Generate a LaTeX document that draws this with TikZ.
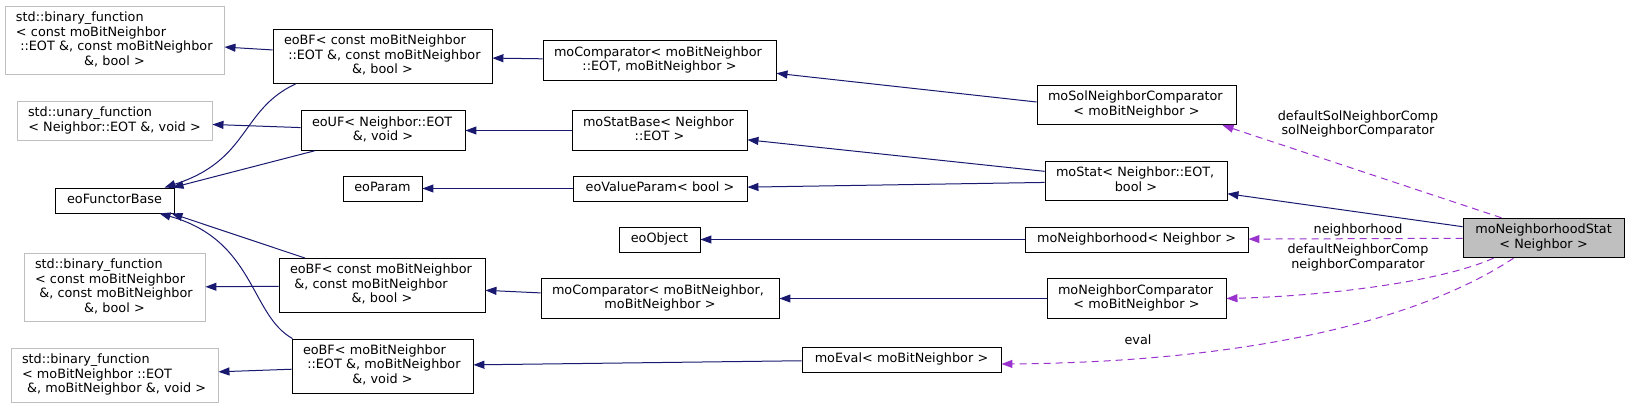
\documentclass[tikz,border=0pt]{standalone}
\usepackage{fontspec}
\setmainfont{DejaVu Sans}
\usetikzlibrary{arrows.meta,calc}
\definecolor{edgeblue}{HTML}{191970}
\definecolor{edgepurple}{HTML}{9A32CD}
\definecolor{grey75}{HTML}{BFBFBF}
\newcommand{\nodefont}{\fontsize{12.8}{14.5}\selectfont}
\newcommand{\lft}[1]{\makebox[\hsize][l]{\hspace{4pt}#1}}
\begin{document}
\begin{tikzpicture}[x=1pt, y=-1pt,
    every node/.style={font=\nodefont},
    cls/.style={draw=black, line width=0.9pt, rectangle, align=center,
        inner xsep=7pt, inner ysep=5.25pt,
        execute at begin node=\strut, execute at end node=\strut},
    ext/.style={cls, draw=grey75},
    lbl/.style={align=center, inner sep=0pt},
    inh/.style={draw=edgeblue, line width=1pt, -{Triangle[length=11pt,width=8pt]}},
    mbr/.style={draw=edgepurple, line width=1pt, dash pattern=on 7pt off 5pt,
        -{Triangle[length=11pt,width=8pt]}}]
    \useasboundingbox (0,0) rectangle (1629,409);
    % external classes
    \node[ext, text width=205pt] (stdbin1) at (114.5,40.5) {\lft{std::binary\_function}\\ \lft{< const moBitNeighbor}\\ \lft{\ ::EOT \&, const moBitNeighbor}\\ \&, bool >};
    \node[ext, text width=181pt] (stdun) at (114.5,121) {\lft{std::unary\_function}\\ < Neighbor::EOT \&, void >};
    \node[ext, text width=167pt] (stdbin2) at (114.5,287.5) {\lft{std::binary\_function}\\ \lft{< const moBitNeighbor}\\ \lft{\ \&, const moBitNeighbor}\\ \&, bool >};
    \node[ext, text width=193pt] (stdbin3) at (114.5,375.5) {\lft{std::binary\_function}\\ \lft{< moBitNeighbor ::EOT}\\ \ \&, moBitNeighbor \&, void >};
    \node[cls, text width=105pt] (eoFB) at (114.5,200.5) {eoFunctorBase};

    % second column
    \node[cls, text width=205pt] (eoBF1) at (382.5,56.5) {\lft{eoBF< const moBitNeighbor}\\ \lft{\ ::EOT \&, const moBitNeighbor}\\ \&, bool >};
    \node[cls, text width=150pt] (eoUF) at (383,130.5) {\lft{eoUF< Neighbor::EOT}\\ \&, void >};
    \node[cls, text width=65pt] (eoParam) at (382.5,188.5) {eoParam};
    \node[cls, text width=192pt] (eoBF2) at (382,285.5) {\lft{eoBF< const moBitNeighbor}\\ \lft{\ \&, const moBitNeighbor}\\ \&, bool >};
    \node[cls, text width=167pt] (eoBF3) at (382.5,366) {\lft{eoBF< moBitNeighbor}\\ \lft{\ ::EOT \&, moBitNeighbor}\\ \&, void >};

    % third column
    \node[cls, text width=219pt] (moCmp1) at (659.5,60.5) {\lft{moComparator< moBitNeighbor}\\ ::EOT, moBitNeighbor >};
    \node[cls, text width=161pt] (moStatBase) at (659.5,130.5) {\lft{moStatBase< Neighbor}\\ ::EOT >};
    \node[cls, text width=160pt] (eoVP) at (660,188.5) {eoValueParam< bool >};
    \node[cls, text width=67pt] (eoObject) at (659.5,239.5) {eoObject};
    \node[cls, text width=224pt] (moCmp2) at (660,298.5) {\lft{moComparator< moBitNeighbor,}\\ moBitNeighbor >};
    \node[cls, text width=185pt] (moEval) at (901.5,359.5) {moEval< moBitNeighbor >};

    % members and parent
    \node[cls, text width=185pt] (moSolNC) at (1136.5,105) {\lft{moSolNeighborComparator}\\ < moBitNeighbor >};
    \node[cls, text width=168pt] (moStat) at (1136,181) {\lft{moStat< Neighbor::EOT,}\\ bool >};
    \node[cls, text width=209pt] (moNbh) at (1136.5,239.5) {moNeighborhood< Neighbor >};
    \node[cls, text width=165pt] (moNC) at (1136.5,298.5) {\lft{moNeighborComparator}\\ < moBitNeighbor >};
    \node[cls, fill=grey75, text width=147pt] (moNS) at (1543.5,238) {\makebox[\hsize][c]{moNeighborhoodStat}\\ < Neighbor >};

    % inheritance
    \draw[inh] (eoBF1) -- (stdbin1);
    \draw[inh] ($(eoBF1.south)+(-87,0)$) .. controls (240,110) and (250,160) .. ($(eoFB.north)+(50,0)$);
    \draw[inh] (eoUF) -- (stdun);
    \draw[inh] ($(eoUF.south)+(-68,0)$) -- ($(eoFB.north)+(58,0)$);
    \draw[inh] (eoBF2) -- (stdbin2);
    \draw[inh] ($(eoBF2.north)+(-77,0)$) -- ($(eoFB.south)+(57,0)$);
    \draw[inh] (eoBF3) -- (stdbin3);
    \draw[inh] ($(eoBF3.north)+(-90,0)$) .. controls (250,315) and (255,240) .. ($(eoFB.south)+(45,0)$);
    \draw[inh] (moCmp1) -- (eoBF1);
    \draw[inh] (moStatBase) -- (eoUF);
    \draw[inh] (eoVP) -- (eoParam);
    \draw[inh] (moCmp2) -- (eoBF2);
    \draw[inh] (moEval) -- (eoBF3);
    \draw[inh] ($(moSolNC.west)+(0,-3)$) -- (moCmp1);
    \draw[inh] (moStat) -- (moStatBase);
    \draw[inh] (moStat) -- (eoVP);
    \draw[inh] (moNbh) -- (eoObject);
    \draw[inh] (moNC) -- (moCmp2);
    \draw[inh] (moNS) -- (moStat);

    % members
    \draw[mbr] ($(moNS.north)+(-42,0)$) -- ($(moSolNC.south)+(86,0)$);
    \draw[mbr] (moNS) -- (moNbh);
    \draw[mbr] ($(moNS.south)+(-50,0)$) .. controls (1440,282) and (1325,296) .. (moNC.east);
    \draw[mbr] ($(moNS.south)+(-30,0)$) .. controls (1420,320) and (1250,362) .. ($(moEval.east)+(0,4.5)$);
    \node[lbl] (lblSol) at (1358,124) {defaultSolNeighborComp\\solNeighborComparator};
    \node[lbl] (lblNbh) at (1358,230) {neighborhood};
    \node[lbl] (lblNC) at (1358,257.5) {defaultNeighborComp\\neighborComparator};
    \node[lbl] (lblEval) at (1138,340) {eval};
\end{tikzpicture}
\end{document}
